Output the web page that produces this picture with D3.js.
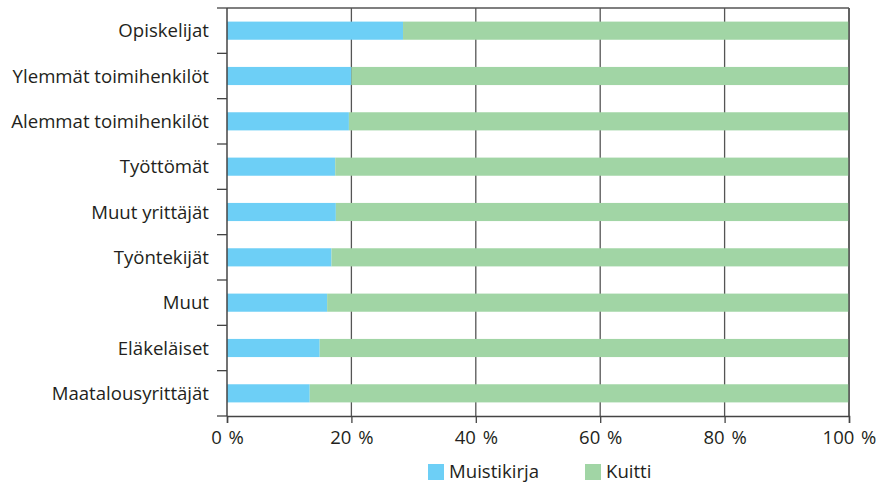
<!DOCTYPE html>
<html>
<head>
<meta charset="utf-8">
<script src="https://cdn.jsdelivr.net/npm/d3@7"></script>
<style>
  body { margin: 0; background: #fff; }
  text { font-family: "Open Sans", sans-serif; fill: #231f20; }
</style>
</head>
<body>
<script>
// data
var categories = ["Opiskelijat", "Ylemmät toimihenkilöt", "Alemmat toimihenkilöt", "Työttömät",
  "Muut yrittäjät", "Työntekijät", "Muut", "Eläkeläiset", "Maatalousyrittäjät"];
var muistikirja = [28.3, 20.0, 19.6, 17.4, 17.5, 16.8, 16.1, 14.9, 13.3];
var kuitti = muistikirja.map(function(v) { return 100 - v; });
var seriesNames = ["Muistikirja", "Kuitti"];
var xTicks = [0, 20, 40, 60, 80, 100];

var colors = ["#6dcff6", "#a1d5a5"];

var W = 876, H = 489;
var margin = {top: 8, left: 227, right: 27, bottom: 73};
var width = W - margin.left - margin.right,
    height = H - margin.top - margin.bottom;

var svg = d3.select("body").append("svg")
    .attr("width", W)
    .attr("height", H);

var g = svg.append("g")
    .attr("transform", "translate(" + margin.left + "," + margin.top + ")");

var x = d3.scaleLinear().domain([0, 100]).range([0, width]);
var y = d3.scaleBand().domain(categories).range([0, height]).paddingInner(0.6).paddingOuter(0.3);
var band = d3.scaleBand().domain(categories).range([0, height]);

// gridlines
g.selectAll(".grid")
    .data(xTicks.slice(1))
    .enter().append("line")
    .attr("x1", function(d) { return x(d); })
    .attr("x2", function(d) { return x(d); })
    .attr("y1", 0)
    .attr("y2", height)
    .attr("stroke", "#555")
    .attr("stroke-width", 1.3);

// stacked bars
var rows = categories.map(function(c, i) { return {cat: c, vals: [muistikirja[i], kuitti[i]]}; });
var stack = d3.stack().keys([0, 1]).value(function(d, k) { return d.vals[k]; });
var layers = stack(rows);

g.selectAll(".layer")
    .data(layers)
    .enter().append("g")
    .attr("fill", function(d, i) { return colors[i]; })
    .selectAll("rect")
    .data(function(d) { return d; })
    .enter().append("rect")
    .attr("x", function(d) { return x(d[0]); })
    .attr("width", function(d) { return x(d[1]) - x(d[0]); })
    .attr("y", function(d) { return y(d.data.cat); })
    .attr("height", y.bandwidth());

// top and right frame
g.append("line").attr("x1", 0).attr("x2", width).attr("y1", 0).attr("y2", 0)
    .attr("stroke", "#555").attr("stroke-width", 1.5);
g.append("line").attr("x1", width).attr("x2", width).attr("y1", 0).attr("y2", height)
    .attr("stroke", "#555").attr("stroke-width", 1.5);

// x axis
var xAxis = g.append("g")
    .attr("transform", "translate(0," + height + ")")
    .call(d3.axisBottom(x).tickValues(xTicks).tickSize(7).tickPadding(8)
      .tickFormat(function(d) { return d + " %"; }));
xAxis.select(".domain").attr("stroke", "#444").attr("stroke-width", 1.5);
xAxis.selectAll(".tick line").attr("stroke", "#444").attr("stroke-width", 1.3);
xAxis.selectAll("text").style("font-size", "18.5px").style("word-spacing", "2px").attr("fill", "#231f20");

// y axis: category labels, ticks between bands
g.append("line").attr("x1", 0).attr("x2", 0).attr("y1", 0).attr("y2", height)
    .attr("stroke", "#444").attr("stroke-width", 1.5);
g.selectAll(".ytick")
    .data(categories.concat([null]))
    .enter().append("line")
    .attr("x1", -10).attr("x2", 0)
    .attr("y1", function(d, i) { return i < categories.length ? band(d) : height; })
    .attr("y2", function(d, i) { return i < categories.length ? band(d) : height; })
    .attr("stroke", "#444").attr("stroke-width", 1.3);
g.selectAll(".ylabel")
    .data(categories)
    .enter().append("text")
    .attr("x", -18)
    .attr("y", function(d) { return y(d) + y.bandwidth() / 2; })
    .attr("dy", "0.35em")
    .attr("text-anchor", "end")
    .style("font-size", "18.6px")
    .text(function(d) { return d; });

// legend
var legendX = [428, 585];
var legend = svg.selectAll(".legend")
    .data(seriesNames)
    .enter().append("g")
    .attr("transform", function(d, i) { return "translate(" + legendX[i] + ",464)"; });
legend.append("rect")
    .attr("width", 16).attr("height", 16)
    .attr("fill", function(d, i) { return colors[i]; });
legend.append("text")
    .attr("x", 21).attr("y", 14)
    .style("font-size", "18.6px")
    .text(function(d) { return d; });
</script>
</body>
</html>
